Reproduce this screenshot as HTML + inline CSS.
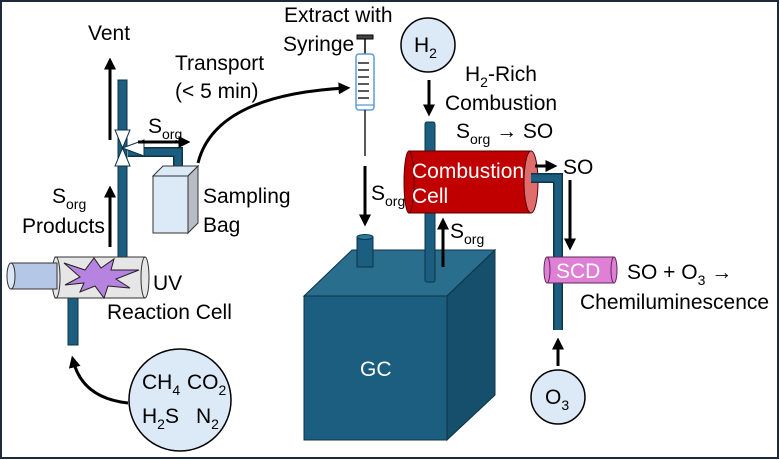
<!DOCTYPE html>
<html><head><meta charset="utf-8"><style>
html,body{margin:0;padding:0;background:#fff}
svg{display:block}
text{font-family:"Liberation Sans",sans-serif;font-size:21px;fill:#000}
</style></head><body>
<svg width="780" height="460" viewBox="0 0 780 460">
<defs>
<marker id="ah" markerWidth="4" markerHeight="4" refX="2.5" refY="2" orient="auto" markerUnits="strokeWidth"><path d="M0,0 L4,2 L0,4 z" fill="#000"/></marker>
</defs>
<rect x="1" y="1" width="777" height="457" fill="#fff" stroke="#1c2a3a" stroke-width="2"/>

<!-- left pipes -->
<rect x="118" y="80" width="9" height="180" fill="#1b5e80" stroke="#0d3347" stroke-width="1"/>
<path d="M128,152 H178 V172" fill="none" stroke="#0d3347" stroke-width="10"/>
<path d="M128,152 H178 V172" fill="none" stroke="#1b5e80" stroke-width="7"/>
<!-- valve -->
<path d="M115,130 L130,130 L122.5,148 Z M115,166 L130,166 L122.5,148 Z M144,140 L144,156 L122.5,148 Z" fill="#fff" stroke="#0d3347" stroke-width="1"/>
<!-- vent arrow -->
<line x1="110" y1="140" x2="110" y2="62" stroke="#000" stroke-width="3" marker-end="url(#ah)"/>
<text x="88" y="40">Vent</text>
<line x1="138" y1="142" x2="186" y2="142" stroke="#000" stroke-width="3" marker-end="url(#ah)"/>
<text x="148" y="133">S<tspan font-size="14" dy="6">org</tspan></text>
<!-- bag -->
<path d="M153,176 L163,166 L198,166 L188,176 Z" fill="#dce9f7" stroke="#333" stroke-width="1"/>
<path d="M188,176 L198,166 L198,223 L188,233 Z" fill="#b8bcc4" stroke="#333" stroke-width="1"/>
<rect x="153" y="176" width="35" height="57" fill="#dce9f7" stroke="#333" stroke-width="1"/>
<text x="203" y="203">Sampling</text>
<text x="203" y="232">Bag</text>
<!-- Sorg products -->
<line x1="110" y1="247" x2="110" y2="190" stroke="#000" stroke-width="3" marker-end="url(#ah)"/>
<text x="52" y="203">S<tspan font-size="14" dy="6">org</tspan></text>
<text x="22" y="233">Products</text>
<!-- lower pipe -->
<rect x="68" y="295" width="10" height="50" fill="#1b5e80" stroke="#0d3347" stroke-width="1"/>
<!-- UV cell -->
<rect x="55" y="257" width="90" height="41" fill="#e6e6e6" stroke="#333" stroke-width="1"/>
<ellipse cx="145" cy="277.5" rx="4" ry="20.5" fill="#e6e6e6" stroke="#333" stroke-width="1"/>
<ellipse cx="56" cy="277.5" rx="4" ry="20.5" fill="#e6e6e6" stroke="#333" stroke-width="1"/>
<rect x="11" y="263" width="46" height="26" fill="#b4c7e7" stroke="#333" stroke-width="1"/>
<ellipse cx="11" cy="276" rx="4" ry="13" fill="#dce6f5" stroke="#333" stroke-width="1"/>
<path d="M64,263 L85,270 L94,258 L101,268 L114,259 L111,270 L139,270 L116,279 L130,288 L108,286 L104,298 L95,286 L80,292 L84,283 L65,285 L80,277 Z" fill="#b783e0" stroke="#222" stroke-width="1"/>
<text x="153" y="290">UV</text>
<text x="107" y="319">Reaction Cell</text>
<!-- gas circle -->
<circle cx="180" cy="400" r="51" fill="#dce9f7" stroke="#000" stroke-width="1.5"/>
<text x="142" y="389">CH<tspan font-size="14" dy="6">4</tspan></text>
<text x="187" y="389">CO<tspan font-size="14" dy="6">2</tspan></text>
<text x="142" y="423">H<tspan font-size="14" dy="6">2</tspan><tspan dy="-6">S</tspan></text>
<text x="196" y="423">N<tspan font-size="14" dy="6">2</tspan></text>
<path d="M128,403 Q82,398 73,360" fill="none" stroke="#000" stroke-width="3" marker-end="url(#ah)"/>
<!-- transport -->
<text x="175" y="70">Transport</text>
<text x="175" y="98">(&lt; 5 min)</text>
<path d="M198,163 Q215,95 346,88" fill="none" stroke="#000" stroke-width="3" marker-end="url(#ah)"/>
<!-- syringe -->
<text x="284" y="22">Extract with</text>
<text x="283" y="51">Syringe</text>
<rect x="357" y="35" width="16" height="4" fill="#444" stroke="#000" stroke-width="1"/>
<line x1="365" y1="39" x2="365" y2="54" stroke="#000" stroke-width="1.5"/>
<rect x="356" y="54" width="18" height="56" rx="3" fill="#fff" stroke="#5b9bd5" stroke-width="1.5"/>
<g stroke="#000" stroke-width="1.3"><line x1="358" y1="63" x2="369" y2="63"/><line x1="358" y1="70" x2="369" y2="70"/><line x1="358" y1="77" x2="369" y2="77"/><line x1="358" y1="84" x2="369" y2="84"/><line x1="358" y1="91" x2="369" y2="91"/><line x1="358" y1="98" x2="369" y2="98"/><line x1="356" y1="105" x2="374" y2="105" stroke="#5b9bd5"/></g>
<line x1="365" y1="110" x2="365" y2="156" stroke="#000" stroke-width="1.3"/>
<line x1="365" y1="166" x2="365" y2="222" stroke="#000" stroke-width="3" marker-end="url(#ah)"/>
<text x="371" y="200">S<tspan font-size="14" dy="6">org</tspan></text>
<!-- GC -->
<path d="M304,296 L352,250 L495,250 L447,296 Z" fill="#2a6e8e" stroke="#0d3347" stroke-width="1"/>
<path d="M447,296 L495,250 L495,395 L447,440 Z" fill="#164f6b" stroke="#0d3347" stroke-width="1"/>
<rect x="304" y="296" width="143" height="144" fill="#1b5e80" stroke="#0d3347" stroke-width="1"/>
<text x="360" y="376" style="fill:#fff">GC</text>
<rect x="357" y="237" width="16" height="30" fill="#1b5e80" stroke="#0d3347" stroke-width="1"/>
<ellipse cx="365" cy="237" rx="8" ry="2.5" fill="#2a7aa0" stroke="#0d3347" stroke-width="1"/>
<!-- combustion pipe -->
<rect x="425" y="122" width="10" height="160" rx="2" fill="#1b5e80" stroke="#0d3347" stroke-width="1"/>
<circle cx="428" cy="45" r="27" fill="#dce9f7" stroke="#000" stroke-width="1.5"/>
<text x="414" y="52">H<tspan font-size="14" dy="6">2</tspan></text>
<line x1="429" y1="80" x2="429" y2="112" stroke="#000" stroke-width="3" marker-end="url(#ah)"/>
<text x="465" y="81">H<tspan font-size="14" dy="6">2</tspan><tspan dy="-6">-Rich</tspan></text>
<text x="445" y="110">Combustion</text>
<text x="456" y="138">S<tspan font-size="14" dy="6">org</tspan><tspan dy="-6"> → SO</tspan></text>
<!-- combustion cell -->
<rect x="409" y="151" width="122" height="62" fill="#c00000" stroke="#5a0000" stroke-width="1"/>
<ellipse cx="409" cy="182" rx="5" ry="31" fill="#c00000" stroke="#5a0000" stroke-width="1"/>
<ellipse cx="531" cy="182" rx="7" ry="31" fill="#e06c6c" stroke="#5a0000" stroke-width="1"/>
<text x="412" y="178" style="fill:#fff">Combustion</text>
<text x="412" y="203" style="fill:#fff">Cell</text>
<line x1="443" y1="267" x2="443" y2="222" stroke="#000" stroke-width="3" marker-end="url(#ah)"/>
<text x="450" y="238">S<tspan font-size="14" dy="6">org</tspan></text>
<line x1="535" y1="166" x2="553" y2="166" stroke="#000" stroke-width="3" marker-end="url(#ah)"/>
<text x="563" y="174">SO</text>
<!-- SO pipe -->
<path d="M531,178 H558 V330" fill="none" stroke="#0d3347" stroke-width="10"/>
<path d="M531,178 H558 V330" fill="none" stroke="#1b5e80" stroke-width="7"/>
<line x1="570" y1="180" x2="570" y2="246" stroke="#000" stroke-width="3" marker-end="url(#ah)"/>
<!-- SCD -->
<rect x="547" y="257" width="67" height="26" fill="#e07fd6" stroke="#5a2a55" stroke-width="1"/>
<ellipse cx="547" cy="270" rx="3" ry="13" fill="#e07fd6" stroke="#5a2a55" stroke-width="1"/>
<ellipse cx="614" cy="270" rx="3" ry="13" fill="#e07fd6" stroke="#5a2a55" stroke-width="1"/>
<text x="556" y="278" style="fill:#fff">SCD</text>
<text x="627" y="279">SO + O<tspan font-size="14" dy="6">3</tspan><tspan dy="-6"> →</tspan></text>
<text x="580" y="309">Chemiluminescence</text>
<line x1="558" y1="366" x2="558" y2="342" stroke="#000" stroke-width="3" marker-end="url(#ah)"/>
<circle cx="558" cy="397" r="27" fill="#dce9f7" stroke="#000" stroke-width="1.5"/>
<text x="545" y="404">O<tspan font-size="14" dy="6">3</tspan></text>
</svg>
</body></html>
